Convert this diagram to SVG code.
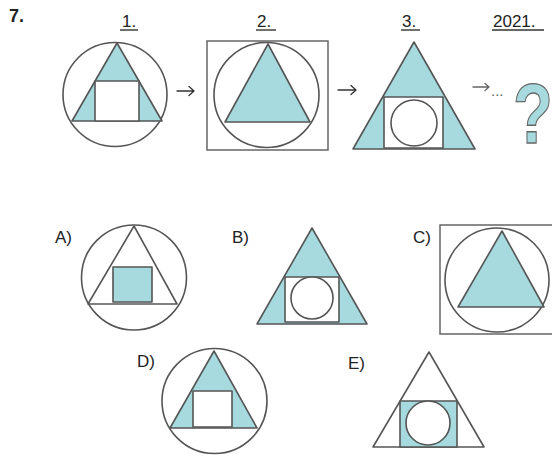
<svg xmlns="http://www.w3.org/2000/svg" width="552" height="461" viewBox="0 0 552 461">
<style>
.s{stroke:#555;stroke-width:1.6;stroke-linejoin:round}
.b{fill:#a6dade}
.w{fill:#fff}
.n{fill:none}
.r{fill:none;stroke:#666;stroke-width:1.5}
.t{font-family:"Liberation Sans",Arial,sans-serif;font-size:17px;fill:#222}
.u{stroke:#333;stroke-width:1.4}
.a{fill:none;stroke:#333;stroke-width:1.3;stroke-linecap:round;stroke-linejoin:round}
</style>
<rect width="552" height="461" fill="#fff"/>
<text class="t" x="9" y="22" style="font-weight:bold;font-size:18px">7.</text>
<g id="fig1">
<text class="t" x="122" y="27">1.</text><line class="u" x1="120" y1="30" x2="138" y2="30"/>
<circle class="s n" cx="115" cy="94.5" r="52"/>
<polygon class="s b" points="117,43 162,121 72,121"/>
<rect class="s w" x="95" y="81" width="44" height="40"/>
</g>
<g id="fig2">
<text class="t" x="257" y="27">2.</text><line class="u" x1="256" y1="30" x2="276" y2="30"/>
<rect class="r" x="207" y="41" width="121" height="109"/>
<circle class="s n" cx="266.5" cy="95" r="52.5"/>
<polygon class="s b" points="268,44 310,122 225,122"/>
</g>
<g id="fig3">
<text class="t" x="402" y="27">3.</text><line class="u" x1="401" y1="30" x2="420" y2="30"/>
<polygon class="s b" points="414,42 475,149 353,149"/>
<rect class="s w" x="384" y="97" width="59" height="51"/>
<circle class="s w" cx="414" cy="123" r="23"/>
</g>
<g id="fig2021">
<text class="t" x="493" y="27">2021.</text><line class="u" x1="492" y1="30" x2="544" y2="30"/>
<text transform="translate(513,143) scale(0.76,1)" x="0" y="0" style="font-family:'Liberation Sans',Arial,sans-serif;font-size:86px;font-weight:bold;fill:#a6dade;stroke:#666;stroke-width:1.3">?</text>
</g>
<g id="connectors">
<path class="a" d="M177,91 H194 M189,86.5 L194,91 L189,95.5"/>
<path class="a" d="M338,90 H356 M351,85.5 L356,90 L351,94.5"/>
<path class="a" d="M473,87 H489 M485,83.5 L489,87 L485,90.5" style="stroke:#666"/>
<text class="t" x="491" y="96" style="font-size:15px;fill:#666">...</text>
</g>
<g id="optA">
<text class="t" x="55" y="243">A)</text>
<circle class="s n" cx="134" cy="277.5" r="52.5"/>
<polygon class="s n" points="134,226 177,304 88,304"/>
<rect class="s b" x="113" y="267" width="39" height="35"/>
</g>
<g id="optB">
<text class="t" x="232" y="243">B)</text>
<polygon class="s b" points="312,228 367,324 257,324"/>
<rect class="s w" x="285" y="277" width="54" height="45"/>
<circle class="s w" cx="312" cy="298" r="21"/>
</g>
<g id="optC">
<text class="t" x="413" y="243">C)</text>
<rect class="r" x="440" y="225" width="121" height="109"/>
<circle class="s n" cx="497" cy="280" r="52"/>
<polygon class="s b" points="502,231 544,307 458,307"/>
</g>
<g id="optD">
<text class="t" x="137" y="367">D)</text>
<circle class="s n" cx="214.5" cy="401" r="52.5"/>
<polygon class="s b" points="214,351 257,428 170,428"/>
<rect class="s w" x="193" y="391" width="39" height="36"/>
</g>
<g id="optE">
<text class="t" x="348" y="369">E)</text>
<polygon class="s n" points="429,352 484,447 373,447"/>
<rect class="s b" x="400" y="401" width="57" height="46"/>
<circle class="s w" cx="428" cy="423" r="22"/>
</g>
</svg>
